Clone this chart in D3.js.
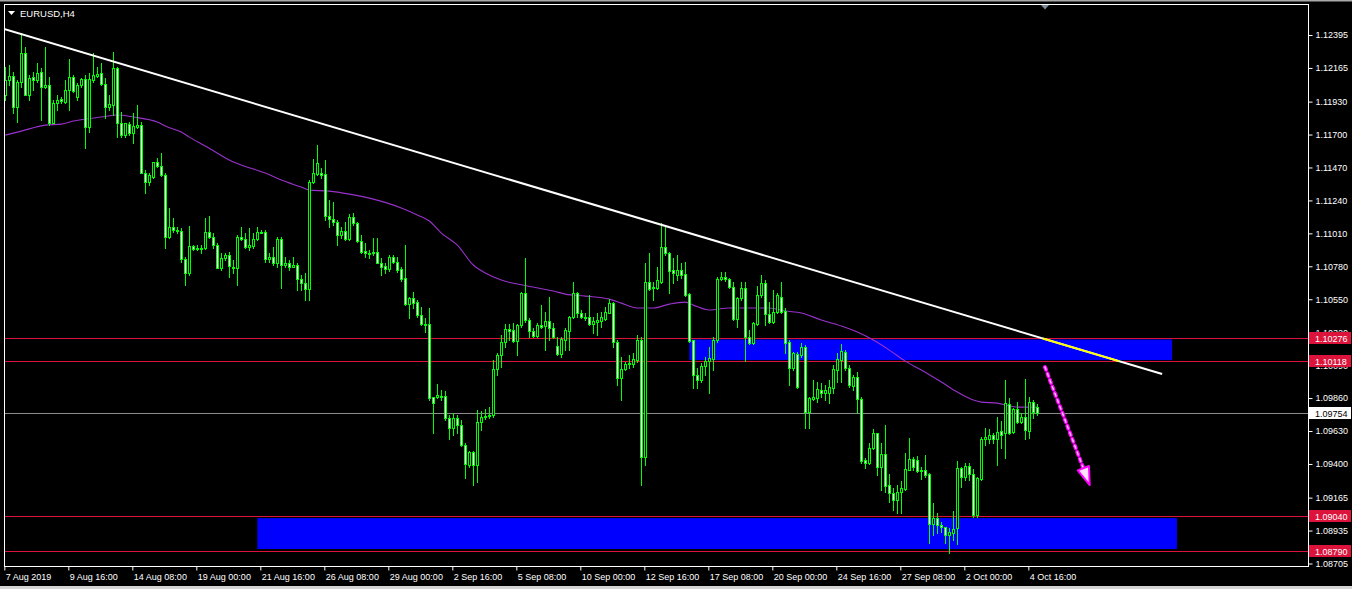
<!DOCTYPE html>
<html><head><meta charset="utf-8">
<script src="https://cdnjs.cloudflare.com/ajax/libs/d3/7.8.5/d3.min.js"></script>
<style>
html,body{margin:0;padding:0;background:#000;overflow:hidden}
svg{display:block}
text{font-family:"Liberation Sans",Arial,sans-serif;}
</style></head><body>
<svg id="c" width="1352" height="589"></svg>
<script>
const chartTitle = "EURUSD,H4";
const openP = [1.11976,1.12080,1.12108,1.11892,1.12066,1.12269,1.11976,1.12101,1.12080,1.12136,1.12032,1.12046,1.11780,1.11920,1.11948,1.11927,1.12011,1.12101,1.11962,1.12046,1.12087,1.11752,1.12080,1.12108,1.12129,1.12053,1.11892,1.11906,1.12164,1.11780,1.11696,1.11773,1.11710,1.11752,1.11766,1.11431,1.11368,1.11403,1.11508,1.11480,1.11417,1.10984,1.11054,1.11033,1.11026,1.10831,1.10733,1.10921,1.10900,1.10904,1.10907,1.11019,1.10984,1.10928,1.10768,1.10838,1.10859,1.10775,1.10768,1.10984,1.10970,1.10914,1.10921,1.10970,1.11019,1.11019,1.10831,1.10845,1.10803,1.10970,1.10789,1.10803,1.10775,1.10789,1.10691,1.10663,1.10621,1.11368,1.11424,1.11431,1.11424,1.11131,1.11110,1.11089,1.10998,1.11026,1.10970,1.11124,1.11082,1.10956,1.10887,1.10873,1.10873,1.10880,1.10803,1.10782,1.10761,1.10845,1.10810,1.10761,1.10698,1.10516,1.10558,1.10530,1.10440,1.10377,1.10377,1.09867,1.09867,1.09874,1.09874,1.09722,1.09652,1.09722,1.09673,1.09532,1.09392,1.09483,1.09392,1.09694,1.09728,1.09735,1.09741,1.10063,1.10160,1.10251,1.10342,1.10335,1.10258,1.10370,1.10593,1.10405,1.10328,1.10293,1.10370,1.10363,1.10398,1.10349,1.10223,1.10167,1.10265,1.10328,1.10426,1.10593,1.10454,1.10426,1.10426,1.10377,1.10391,1.10398,1.10412,1.10454,1.10523,1.10251,1.10000,1.10063,1.10098,1.10098,1.10125,1.10265,1.09448,1.10670,1.10628,1.10628,1.10670,1.10914,1.10873,1.10754,1.10719,1.10754,1.10726,1.10586,1.10265,1.10021,1.09986,1.10084,1.10118,1.10132,1.10265,1.10691,1.10705,1.10691,1.10635,1.10412,1.10558,1.10628,1.10286,1.10244,1.10377,1.10579,1.10663,1.10447,1.10391,1.10461,1.10565,1.10468,1.10251,1.10070,1.10167,1.10160,1.10216,1.09762,1.09853,1.09860,1.09916,1.09895,1.09895,1.09930,1.10056,1.10125,1.10181,1.10070,1.09944,1.10007,1.09853,1.09427,1.09406,1.09511,1.09616,1.09378,1.09469,1.09253,1.09197,1.09148,1.09204,1.09225,1.09357,1.09434,1.09427,1.09350,1.09357,1.09330,1.08980,1.09022,1.08973,1.08959,1.08904,1.08918,1.08953,1.09371,1.09309,1.09385,1.09330,1.09043,1.09295,1.09574,1.09574,1.09602,1.09574,1.09630,1.09616,1.09818,1.09623,1.09783,1.09694,1.09728,1.09630,1.09832,1.09797];
const highP = [1.12171,1.12185,1.12136,1.12080,1.12408,1.12311,1.12115,1.12136,1.12199,1.12164,1.12311,1.12101,1.11941,1.11976,1.11962,1.12080,1.12227,1.12115,1.12059,1.12094,1.12115,1.12129,1.12269,1.12171,1.12199,1.12094,1.11976,1.12276,1.12171,1.11857,1.11780,1.11787,1.11850,1.11906,1.11787,1.11452,1.11431,1.11508,1.11536,1.11571,1.11431,1.11187,1.11117,1.11054,1.11047,1.10845,1.11061,1.10928,1.10928,1.10928,1.11117,1.11131,1.11012,1.10942,1.10873,1.10873,1.10880,1.10824,1.10998,1.11054,1.11012,1.11047,1.11012,1.11054,1.11033,1.11033,1.10873,1.10914,1.10984,1.10984,1.10845,1.10824,1.10845,1.10803,1.10719,1.10733,1.11382,1.11529,1.11627,1.11466,1.11522,1.11243,1.11229,1.11103,1.11054,1.11089,1.11145,1.11152,1.11089,1.10998,1.10942,1.10894,1.10977,1.10977,1.10838,1.10803,1.10859,1.10859,1.10845,1.10775,1.10928,1.10565,1.10600,1.10544,1.10496,1.10419,1.10489,1.09867,1.09958,1.09916,1.09909,1.09741,1.09755,1.09741,1.09708,1.09546,1.09490,1.09490,1.09776,1.09769,1.09783,1.09797,1.10125,1.10174,1.10300,1.10377,1.10377,1.10384,1.10377,1.10600,1.10838,1.10419,1.10349,1.10384,1.10509,1.10461,1.10565,1.10384,1.10286,1.10286,1.10349,1.10433,1.10670,1.10600,1.10475,1.10454,1.10579,1.10426,1.10454,1.10461,1.10496,1.10551,1.10530,1.10265,1.10146,1.10112,1.10160,1.10174,1.10300,1.10286,1.10803,1.10873,1.10670,1.10775,1.11082,1.11068,1.10880,1.10838,1.10859,1.10803,1.10810,1.10593,1.10265,1.10070,1.10105,1.10146,1.10216,1.10286,1.10705,1.10740,1.10740,1.10698,1.10670,1.10565,1.10670,1.10670,1.10335,1.10391,1.10642,1.10719,1.10684,1.10530,1.10614,1.10593,1.10670,1.10489,1.10265,1.10181,1.10181,1.10244,1.10230,1.09867,1.09986,1.09972,1.09965,1.09951,1.09986,1.10091,1.10174,1.10237,1.10195,1.10091,1.10021,1.10042,1.09867,1.09441,1.09546,1.09645,1.09616,1.09546,1.09673,1.09330,1.09232,1.09253,1.09281,1.09476,1.09581,1.09448,1.09455,1.09378,1.09462,1.09337,1.09127,1.09057,1.08994,1.08959,1.08953,1.09071,1.09420,1.09378,1.09406,1.09406,1.09364,1.09309,1.09588,1.09652,1.09645,1.09616,1.09728,1.09701,1.09986,1.09860,1.09790,1.09832,1.09755,1.09993,1.09867,1.09846,1.09818];
const lowP = [1.11941,1.12046,1.11850,1.11787,1.12032,1.11976,1.11941,1.12011,1.12066,1.11801,1.12025,1.11766,1.11780,1.11871,1.11920,1.11920,1.11871,1.11997,1.11941,1.12032,1.11606,1.11717,1.12066,1.12101,1.12046,1.11815,1.11871,1.11836,1.11682,1.11682,1.11682,1.11696,1.11641,1.11745,1.11431,1.11291,1.11347,1.11396,1.11473,1.11410,1.10907,1.10977,1.11019,1.11012,1.10810,1.10649,1.10719,1.10894,1.10894,1.10873,1.10900,1.10977,1.10907,1.10768,1.10754,1.10824,1.10705,1.10733,1.10649,1.10963,1.10907,1.10894,1.10907,1.10963,1.11012,1.10810,1.10810,1.10789,1.10775,1.10628,1.10775,1.10754,1.10775,1.10614,1.10614,1.10544,1.10544,1.11361,1.11417,1.11396,1.11103,1.11054,1.11068,1.10928,1.10977,1.10963,1.10963,1.11068,1.10949,1.10873,1.10845,1.10838,1.10859,1.10803,1.10719,1.10733,1.10747,1.10803,1.10740,1.10677,1.10509,1.10419,1.10489,1.10426,1.10370,1.10321,1.09846,1.09616,1.09860,1.09846,1.09708,1.09574,1.09602,1.09616,1.09525,1.09302,1.09378,1.09253,1.09274,1.09637,1.09714,1.09722,1.09728,1.10021,1.10077,1.10216,1.10265,1.10251,1.10160,1.10356,1.10391,1.10286,1.10286,1.10286,1.10349,1.10195,1.10265,1.10279,1.10160,1.10146,1.10195,1.10195,1.10419,1.10426,1.10419,1.10405,1.10370,1.10314,1.10300,1.10356,1.10405,1.10454,1.10216,1.09951,1.09846,1.10056,1.10070,1.10077,1.10112,1.09253,1.09392,1.10614,1.10544,1.10621,1.10663,1.10859,1.10593,1.10663,1.10684,1.10698,1.10572,1.10251,1.09930,1.09930,1.09972,1.10021,1.09895,1.10056,1.10251,1.10684,1.10677,1.10628,1.10405,1.10356,1.10544,1.10118,1.10237,1.10237,1.10370,1.10565,1.10370,1.10384,1.10384,1.10454,1.10454,1.10174,1.09951,1.10056,1.09930,1.10146,1.09652,1.09652,1.09846,1.09832,1.09867,1.09846,1.09825,1.09895,1.09972,1.09972,1.10056,1.09937,1.09916,1.09755,1.09406,1.09371,1.09399,1.09504,1.09323,1.09218,1.09204,1.09134,1.09078,1.09057,1.09057,1.09218,1.09357,1.09357,1.09343,1.09295,1.09309,1.08848,1.08904,1.08918,1.08925,1.08848,1.08778,1.08869,1.08841,1.09239,1.09288,1.09288,1.09029,1.09029,1.09288,1.09532,1.09546,1.09546,1.09392,1.09511,1.09441,1.09609,1.09616,1.09687,1.09687,1.09574,1.09581,1.09722,1.09741];
const closeP = [1.12080,1.12108,1.11892,1.12066,1.12269,1.11976,1.12094,1.12080,1.12129,1.12032,1.12046,1.11780,1.11920,1.11941,1.11934,1.12011,1.12101,1.12004,1.12046,1.12087,1.11752,1.12087,1.12115,1.12122,1.12053,1.11892,1.11913,1.12164,1.11780,1.11696,1.11780,1.11710,1.11759,1.11766,1.11431,1.11368,1.11417,1.11508,1.11480,1.11417,1.10984,1.11054,1.11033,1.11026,1.10831,1.10733,1.10921,1.10900,1.10907,1.10907,1.11019,1.10984,1.10928,1.10768,1.10838,1.10859,1.10782,1.10768,1.10984,1.10970,1.10914,1.10928,1.10970,1.11019,1.11012,1.10831,1.10845,1.10803,1.10970,1.10789,1.10803,1.10775,1.10789,1.10691,1.10663,1.10621,1.11368,1.11431,1.11501,1.11417,1.11131,1.11110,1.11089,1.10998,1.11026,1.10970,1.11124,1.11082,1.10956,1.10880,1.10873,1.10866,1.10880,1.10803,1.10775,1.10761,1.10845,1.10810,1.10754,1.10691,1.10516,1.10558,1.10523,1.10440,1.10377,1.10370,1.09860,1.09825,1.09881,1.09867,1.09722,1.09652,1.09722,1.09673,1.09532,1.09399,1.09483,1.09392,1.09694,1.09728,1.09735,1.09741,1.10063,1.10160,1.10251,1.10342,1.10328,1.10258,1.10370,1.10593,1.10405,1.10328,1.10293,1.10370,1.10356,1.10398,1.10349,1.10286,1.10167,1.10272,1.10335,1.10426,1.10593,1.10454,1.10426,1.10419,1.10377,1.10398,1.10405,1.10426,1.10461,1.10523,1.10251,1.10000,1.10063,1.10098,1.10105,1.10132,1.10265,1.09448,1.10670,1.10621,1.10635,1.10684,1.10914,1.10873,1.10747,1.10733,1.10754,1.10719,1.10579,1.10258,1.10021,1.09986,1.10084,1.10118,1.10139,1.10265,1.10691,1.10705,1.10691,1.10635,1.10412,1.10558,1.10628,1.10286,1.10244,1.10384,1.10579,1.10663,1.10447,1.10391,1.10461,1.10579,1.10461,1.10244,1.10070,1.10174,1.09937,1.10216,1.09762,1.09860,1.09867,1.09923,1.09895,1.09916,1.09937,1.10063,1.10132,1.10188,1.10070,1.09951,1.10007,1.09853,1.09420,1.09406,1.09511,1.09616,1.09378,1.09469,1.09246,1.09197,1.09148,1.09204,1.09232,1.09364,1.09434,1.09378,1.09350,1.09357,1.09323,1.08980,1.09022,1.08973,1.08959,1.08904,1.08925,1.08946,1.09371,1.09309,1.09385,1.09330,1.09043,1.09302,1.09574,1.09588,1.09602,1.09574,1.09623,1.09602,1.09825,1.09616,1.09783,1.09694,1.09728,1.09637,1.09832,1.09762,1.09754];

const maIdx = [0,4,10,14,17,20,24,28,32,38,40,44,46,50,57,62,65,69,74,76,81,86,92,99,103,106,109,113,117,120,124,128,132,137,140,145,151,154,158,162,166,170,172,176,181,187,191,195,199,204,209,213,217,221,225,229,234,238,242,244,248,253,258];
const maVal = [1.11696,1.11724,1.11766,1.11773,1.11794,1.11808,1.11822,1.11836,1.11822,1.11787,1.11759,1.11717,1.11682,1.11620,1.11508,1.11459,1.11431,1.11382,1.11333,1.11312,1.11305,1.11284,1.11249,1.11187,1.11138,1.11096,1.11012,1.10928,1.10789,1.10733,1.10684,1.10656,1.10635,1.10607,1.10586,1.10572,1.10551,1.10523,1.10489,1.10489,1.10516,1.10530,1.10509,1.10475,1.10489,1.10489,1.10489,1.10468,1.10454,1.10405,1.10363,1.10321,1.10265,1.10195,1.10118,1.10056,1.09972,1.09902,1.09846,1.09832,1.09825,1.09797,1.09797];

const priceTicks = [1.12395,1.12165,1.11930,1.11700,1.11470,1.11240,1.11010,1.10780,1.10550,1.10320,1.10090,1.09860,1.09630,1.09400,1.09165,1.08935,1.08705];
const dateTickIdx = [0,16,32,48,64,80,96,112,128,144,160,176,192,208,224,240,256];
const dateLabels = ["7 Aug 2019","9 Aug 16:00","14 Aug 08:00","19 Aug 00:00","21 Aug 16:00","26 Aug 08:00","29 Aug 00:00","2 Sep 16:00","5 Sep 08:00","10 Sep 00:00","12 Sep 16:00","17 Sep 08:00","20 Sep 00:00","24 Sep 16:00","27 Sep 08:00","2 Oct 00:00","4 Oct 16:00"];

const redLevels = [1.10276, 1.10118, 1.09040, 1.08790];
const lastPrice = 1.09754;
const zoneTop = [1.10269, 1.09022];
const zoneBottom = [1.10125, 1.08806];
const zoneStartIdx = [171, 63];
const zoneEndIdx = [291.7, 292.9];
const trendIdx = [-0.33, 289.2];
const trendVal = [1.12437, 1.10028];
const arrowIdx = [259.9, 271.1];
const arrowVal = [1.10077, 1.09253];

const W = 1352, H = 589;
const plot = {x0: 4, y0: 4, x1: 1308, y1: 566};
const svg = d3.select("#c");
svg.append("rect").attr("width", W).attr("height", H).attr("fill", "#000");
svg.append("rect").attr("x",0).attr("y",0).attr("width",W).attr("height",1.5).attr("fill","#a8a8a8");
svg.append("rect").attr("x",0).attr("y",586).attr("width",W).attr("height",3).attr("fill","#d4d4d4");

const x = d3.scaleLinear().domain([0, 258]).range([5.33, 1037.33]);
const y = d3.scaleLinear().domain([1.12395, 1.08705]).range([35, 563.5]);

svg.append("defs").append("clipPath").attr("id","pc").append("rect")
  .attr("x", plot.x0).attr("y", plot.y0).attr("width", plot.x1-plot.x0).attr("height", plot.y1-plot.y0);
const g = svg.append("g").attr("clip-path","url(#pc)");

// zones
const zones = d3.range(zoneTop.length).map(k => ({t: zoneTop[k], b: zoneBottom[k], s: zoneStartIdx[k], e: zoneEndIdx[k]}));
g.selectAll("rect.zone").data(zones).enter().append("rect").attr("class","zone")
  .attr("x", d => x(d.s)).attr("width", d => x(d.e) - x(d.s))
  .attr("y", d => y(d.t)).attr("height", d => y(d.b) - y(d.t))
  .attr("fill", "#0000ff");

// horizontal levels
g.selectAll("line.lvl").data(redLevels).enter().append("line").attr("class","lvl")
  .attr("x1", plot.x0).attr("x2", plot.x1)
  .attr("y1", d => Math.round(y(d))+0.5).attr("y2", d => Math.round(y(d))+0.5)
  .attr("stroke", "#dc143c").attr("stroke-width", 1);
g.append("line").attr("x1", plot.x0).attr("x2", plot.x1)
  .attr("y1", Math.round(y(lastPrice))+0.5).attr("y2", Math.round(y(lastPrice))+0.5)
  .attr("stroke", "#8c8c8c").attr("stroke-width", 1);

// moving average
const maData = d3.zip(maIdx, maVal);
g.append("path").datum(maData)
  .attr("d", d3.line().x(d => x(d[0])).y(d => y(d[1])).curve(d3.curveMonotoneX))
  .attr("fill","none").attr("stroke","#9932cc").attr("stroke-width",1.1);

// candles
const candles = openP.map((o, i) => ({i, o, h: highP[i], l: lowP[i], c: closeP[i]}));
const cg = g.append("g");
candles.forEach(d => {
  const cx = Math.round(x(d.i));
  cg.append("line").attr("x1", cx+0.5).attr("x2", cx+0.5)
    .attr("y1", Math.round(y(d.h))).attr("y2", Math.round(y(d.l))+1)
    .attr("stroke", "#00ff00").attr("stroke-width", 1);
  const top = Math.round(y(Math.max(d.o, d.c)));
  const bot = Math.round(y(Math.min(d.o, d.c)));
  const hgt = Math.max(1, bot - top + 1);
  cg.append("rect").attr("x", cx-1).attr("y", top).attr("width", 3).attr("height", hgt).attr("fill", "#00ff00");
  if (hgt >= 3) {
    cg.append("rect").attr("x", cx).attr("y", top+1).attr("width", 1).attr("height", hgt-2)
      .attr("fill", d.c >= d.o ? "#000000" : "#ffffff");
  }
});

// trend line
const tl = d3.zip(trendIdx, trendVal);
g.append("line").attr("x1", x(tl[0][0])).attr("y1", y(tl[0][1])).attr("x2", x(tl[1][0])).attr("y2", y(tl[1][1]))
  .attr("stroke","#ffffff").attr("stroke-width",2);
// yellow part of the trend line inside the upper band
const slope = (tl[1][1]-tl[0][1])/(tl[1][0]-tl[0][0]);
const idxAt = p => tl[0][0] + (p - tl[0][1])/slope;
const yA = redLevels[0], yB = redLevels[1];
g.append("line").attr("x1", x(idxAt(yA))).attr("y1", y(yA)).attr("x2", x(idxAt(yB))).attr("y2", y(yB))
  .attr("stroke","#ffff00").attr("stroke-width",2);

// arrow
const ax0 = x(arrowIdx[0]), ay0 = y(arrowVal[0]), ax1 = x(arrowIdx[1]), ay1 = y(arrowVal[1]);
const len = Math.hypot(ax1-ax0, ay1-ay0), ux = (ax1-ax0)/len, uy = (ay1-ay0)/len;
const headL = 18, headW = 6;
const bx = ax1 - ux*headL, by = ay1 - uy*headL;
g.append("line").attr("x1", ax0).attr("y1", ay0).attr("x2", bx).attr("y2", by)
  .attr("stroke","#ff00ff").attr("stroke-width",4).attr("stroke-dasharray","3,4").attr("stroke-linecap","round");
g.append("line").attr("x1", ax0).attr("y1", ay0).attr("x2", bx).attr("y2", by)
  .attr("stroke","#ffc8ff").attr("stroke-width",1.4).attr("stroke-dasharray","3,4").attr("stroke-linecap","round");
g.append("path")
  .attr("d", `M${ax1},${ay1} L${bx - uy*headW},${by + ux*headW} L${bx + uy*headW},${by - ux*headW} Z`)
  .attr("fill","#ffe0ff").attr("stroke","#ff00ff").attr("stroke-width",2).attr("stroke-linejoin","round");

// frame
svg.append("rect").attr("x", plot.x0+0.5).attr("y", plot.y0+0.5)
  .attr("width", plot.x1-plot.x0).attr("height", plot.y1-plot.y0)
  .attr("fill","none").attr("stroke","#ffffff").attr("stroke-width",1);

// right price axis
const ay = svg.append("g").attr("transform", `translate(${plot.x1+0.5},0)`)
  .call(d3.axisRight(y).tickValues(priceTicks).tickFormat(d3.format(".5f")).tickSize(4).tickPadding(3));
ay.select(".domain").remove();
ay.selectAll("line").attr("stroke","#ffffff");
ay.selectAll("text").attr("fill","#ffffff").style("font-size","9px").style("font-family","'Liberation Sans',Arial,sans-serif");

// level labels
const lvLabels = redLevels.map(v => ({v, bg:"#dc143c", fg:"#ffffff"})).concat([{v:lastPrice, bg:"#ffffff", fg:"#000000"}]);
const lg = svg.append("g");
lvLabels.forEach(d => {
  const yy = Math.round(y(d.v));
  lg.append("rect").attr("x", plot.x1+1).attr("y", yy-6).attr("width", 42).attr("height", 12).attr("fill", d.bg);
  lg.append("text").attr("x", plot.x1+7).attr("y", yy+3.5).text(d3.format(".5f")(d.v))
    .attr("fill", d.fg).style("font-size","9px");
});

// bottom time axis
const xt = d3.scaleLinear().domain([0,258]).range([4.33, 1036.33]);
const axb = svg.append("g").attr("transform", `translate(0,${plot.y1+0.5})`)
  .call(d3.axisBottom(xt).tickValues(dateTickIdx).tickFormat((d,k) => dateLabels[k]).tickSize(4).tickPadding(3));
axb.select(".domain").remove();
axb.selectAll("line").attr("stroke","#ffffff");
axb.selectAll("text").attr("fill","#ffffff").attr("text-anchor","start").attr("x",1)
  .style("font-size","9px").style("font-family","'Liberation Sans',Arial,sans-serif");

// title
svg.append("path").attr("d","M8,11 L15,11 L11.5,15 Z").attr("fill","#ffffff");
svg.append("text").attr("x",20).attr("y",17).text(chartTitle).attr("fill","#ffffff").style("font-size","9.5px");
// shift marker
svg.append("path").attr("d","M1041,5 L1049,5 L1045,9.5 Z").attr("fill","#7a8a9a");
</script>
</body></html>
